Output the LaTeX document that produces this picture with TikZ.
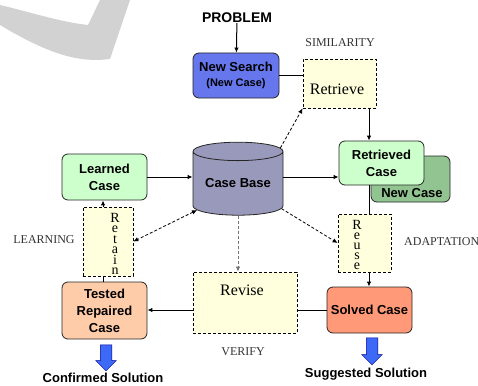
\documentclass[tikz,border=0pt]{standalone}
\usepackage{fontspec}
\setmainfont{Liberation Serif}
\setsansfont{Liberation Sans}
\usetikzlibrary{arrows.meta,shapes.geometric,shapes.arrows}
\definecolor{searchblue}{RGB}{102,119,238}
\definecolor{casegreen}{RGB}{204,255,204}
\definecolor{newgreen}{RGB}{145,196,145}
\definecolor{baseviolet}{RGB}{153,153,187}
\definecolor{solvedred}{RGB}{255,153,119}
\definecolor{testedpeach}{RGB}{255,204,170}
\definecolor{phaseyellow}{RGB}{255,255,221}
\definecolor{outblue}{RGB}{60,105,245}
\definecolor{marklight}{RGB}{210,210,210}
\begin{document}
\begin{tikzpicture}[x=1pt,y=-1pt,
    casebox/.style={draw=black!85,line width=0.8pt,rounded corners=6pt,align=center,
      inner sep=0pt,font=\fontsize{13}{17}\selectfont\sffamily\bfseries},
    boldlabel/.style={inner sep=0pt,font=\fontsize{13}{13}\selectfont\sffamily\bfseries},
    phasebox/.style={draw,dash pattern=on 3pt off 2pt,fill=phaseyellow,line width=0.8pt,inner sep=0pt},
    phasetext/.style={inner sep=0pt,font=\fontsize{16}{16}\selectfont},
    letters/.style={align=center,inner sep=0pt,font=\fontsize{14}{10}\selectfont},
    phasename/.style={inner sep=0pt,font=\fontsize{12}{12}\selectfont,text=black!80},
    outarrow/.style={single arrow,draw=blue!60!black,fill=outblue,line width=0.5pt,rotate=-90,
      minimum width=20pt,single arrow head extend=4.5pt,inner xsep=0pt,inner ysep=5.5pt},
    flow/.style={line width=1pt,-{Latex[length=5pt,width=4.5pt]}},
    link/.style={line width=1pt},
    dashflow/.style={line width=0.8pt,dash pattern=on 3pt off 2pt,-{Latex[length=5pt,width=4.5pt]}},
    dashboth/.style={line width=0.8pt,dash pattern=on 3pt off 2pt,{Latex[length=5pt,width=4.5pt]}-{Latex[length=5pt,width=4.5pt]}}]
    \useasboundingbox (0,0) rectangle (478,385);
    % watermark
    \fill[marklight] (0,5) .. controls (30,12) and (60,22) .. (88,25) -- (100,0) -- (130,0)
        -- (110,59) .. controls (80,63) and (50,55) .. (0,25) -- cycle;
    % guide lines for the vertical connectors
    \coordinate (rx) at (369,0);
    \coordinate (lx) at (103,0);
    % top
    \node[boldlabel,font=\fontsize{14}{14}\selectfont\sffamily\bfseries] (problem) at (237,18) {PROBLEM};
    \node[casebox,fill=searchblue,minimum width=86pt,minimum height=45pt] (search) at (236,75.5)
        {New Search\\[-2pt]{\fontsize{11}{11}\selectfont(New Case)}};
    \node[phasebox,minimum width=73pt,minimum height=49pt] (retrieve) at (339.5,83.5) {};
    \node[phasetext] (retrievetext) at (337,89) {Retrieve};
    \node[phasename] (similarity) at (340,43) {SIMILARITY};
    % middle row
    \node[cylinder,shape border rotate=90,aspect=0.28,draw=black!85,line width=0.8pt,fill=baseviolet,
        minimum width=90pt,minimum height=73pt,inner sep=0pt,font=\fontsize{13}{13}\selectfont\sffamily\bfseries]
        (casebase) at (238,183.5) {Case Base};
    \node[casebox,fill=casegreen,minimum width=85pt,minimum height=46pt] (learned) at (104.5,177) {Learned\\Case};
    \node[casebox,fill=newgreen,minimum width=79pt,minimum height=46pt] (newcase) at (410.5,179) {};
    \node[boldlabel] (newcasetext) at (412,193) {New Case};
    \node[casebox,fill=casegreen,minimum width=85pt,minimum height=44pt] (retrieved) at (381.5,163) {Retrieved\\Case};
    % reuse and retain
    \node[phasebox,minimum width=53pt,minimum height=58pt] (reuse) at (364.5,243) {};
    \node[letters] (reusetext) at (357,245) {R\\e\\u\\s\\e};
    \node[phasename,anchor=west] (adaptation) at (404,242) {ADAPTATION};
    \node[phasebox,minimum width=50pt,minimum height=69pt] (retain) at (108,241.5) {};
    \node[letters,font=\fontsize{14}{10.5}\selectfont] (retaintext) at (115,244) {R\\e\\t\\a\\i\\n};
    \node[phasename] (learning) at (44,240) {LEARNING};
    % bottom row
    \node[phasebox,minimum width=104pt,minimum height=61pt] (revise) at (245,302.5) {};
    \node[phasetext] (revisetext) at (242,290) {Revise};
    \node[phasename] (verify) at (243,352) {VERIFY};
    \node[casebox,fill=solvedred,minimum width=85pt,minimum height=46pt] (solved) at (369.5,310) {Solved Case};
    \node[casebox,fill=testedpeach,minimum width=85pt,minimum height=57pt] (tested) at (104.5,310.5) {Tested\\Repaired\\Case};
    % outputs
    \node[outarrow,minimum height=26pt] (confirmedarrow) at (106,355) {};
    \node[boldlabel] (confirmed) at (103,378) {Confirmed Solution};
    \node[outarrow,minimum height=27pt] (suggestedarrow) at (372,348.5) {};
    \node[boldlabel] (suggested) at (366,374) {Suggested Solution};
    % solid connectors
    \draw[flow] (problem) -- (search);
    \draw[link] (search.east) -- (search.east -| retrieve.west);
    \draw[flow] (retrieve.south -| rx) -- (retrieved.north -| rx);
    \draw[flow] (learned.east) -- (learned.east -| casebase.west);
    \draw[flow] (learned.east -| casebase.east) -- (learned.east -| retrieved.west);
    \draw[link] (retrieved.south -| rx) -- (reuse.north -| rx);
    \draw[flow] (reuse.south -| rx) -- (solved.north -| rx);
    \draw[link] (solved.west) -- (solved.west -| revise.east);
    \draw[flow] (solved.west -| revise.west) -- (solved.west -| tested.east);
    \draw[link] (tested.north -| lx) -- (retain.south -| lx);
    \draw[flow] (retain.north -| lx) -- (learned.south -| lx);
    % dashed connectors
    \draw[dashflow] (casebase.40) -- (retrieve.south west);
    \draw[dashflow] (casebase.-30) -- (reuse.west);
    \draw[dashflow,draw=black!55] (casebase.south) -- (casebase.south |- revise.north);
    \draw[dashboth] (casebase.213) -- (retain.east);
\end{tikzpicture}
\end{document}
